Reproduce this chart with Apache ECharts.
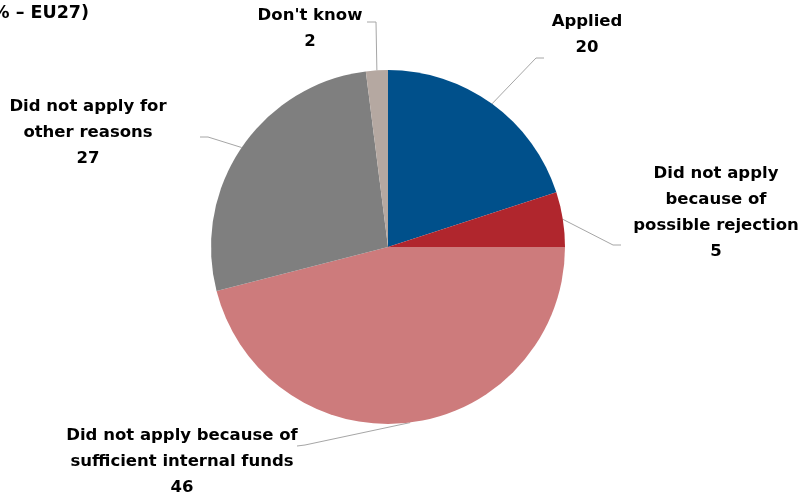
<!DOCTYPE html>
<html>
<head>
<meta charset="utf-8">
<script src="https://cdn.jsdelivr.net/npm/echarts@6/dist/echarts.min.js"></script>
<style>
  html, body { margin: 0; padding: 0; background: #ffffff; }
  #chart { width: 801px; height: 497px; }
</style>
</head>
<body>
<div id="chart"></div>
<script>
// Reasons for (not) applying for a bank loan, % of SMEs – EU27
const categories = [
  'Applied',
  'Did not apply\nbecause of\npossible rejection',
  'Did not apply because of\nsufficient internal funds',
  'Did not apply for\nother reasons',
  "Don't know"
];
const values = [20, 5, 46, 27, 2];
const colors = ['#00508B', '#B0262D', '#CD7B7C', '#7F7F7F', '#B5A8A1'];

// label anchor (centre x, top y) and the elbow / end of each leader line
const labelAnchors = [
  { x: 587, y: 9, elbow: [536, 58], end: [544, 58] },
  { x: 716, y: 161, elbow: [613, 245], end: [621, 245] },
  { x: 182, y: 423, elbow: [305, 445], end: [297, 446] },
  { x: 88, y: 94, elbow: [208, 137], end: [200, 137] },
  { x: 310, y: 3, elbow: [376, 22], end: [367, 22] }
];

const FONT = '"DejaVu Sans", "Noto Sans", sans-serif';

const chart = echarts.init(document.getElementById('chart'), null, { renderer: 'canvas' });

chart.setOption({
  animation: false,
  backgroundColor: '#ffffff',
  graphic: [{
    type: 'text',
    x: 89,
    y: 4,
    style: {
      text: '(% – EU27)',
      font: 'bold 17.5px ' + FONT,
      fill: '#000000',
      align: 'right',
      verticalAlign: 'top'
    }
  }],
  series: [{
    type: 'pie',
    center: [388, 247],
    radius: [0, 177],
    startAngle: 90,
    clockwise: true,
    avoidLabelOverlap: false,
    data: categories.map((name, i) => ({
      name: name,
      value: values[i],
      itemStyle: { color: colors[i] }
    })),
    itemStyle: { borderWidth: 0 },
    label: {
      show: true,
      formatter: '{b}\n{c}',
      fontFamily: FONT,
      fontWeight: 'bold',
      fontSize: 16.5,
      lineHeight: 26,
      color: '#000000',
      align: 'center'
    },
    labelLine: {
      show: true,
      length: 20,
      length2: 10,
      lineStyle: { color: '#A6A6A6', width: 1 }
    },
    labelLayout: function (params) {
      const a = labelAnchors[params.dataIndex];
      const start = params.labelLinePoints ? params.labelLinePoints[0] : a.elbow;
      return {
        x: a.x,
        y: a.y,
        align: 'center',
        verticalAlign: 'top',
        labelLinePoints: [start, a.elbow, a.end]
      };
    }
  }]
});
</script>
</body>
</html>
